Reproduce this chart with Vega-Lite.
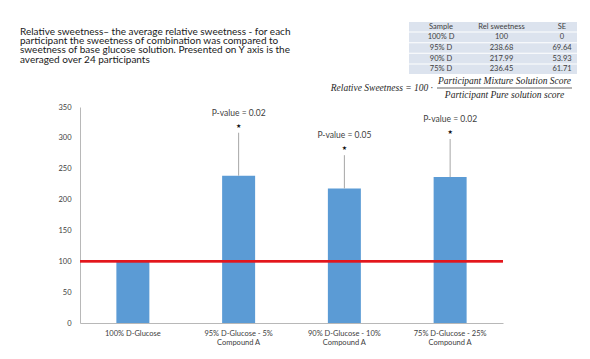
{
  "$schema": "https://vega.github.io/schema/vega-lite/v6.json",
  "autosize": "none",
  "width": 423,
  "height": 216,
  "padding": {"left": 80, "top": 107, "right": 87, "bottom": 36},
  "background": "white",
  "config": {
    "font": "Lato",
    "view": {"stroke": null},
    "axisY": {"labelOverlap": false, "grid": true, "gridColor": "#e6e6e6", "domain": true, "domainColor": "#b8b8b8", "ticks": false, "labelPadding": 9, "labelFontSize": 7.5, "labelColor": "#404040", "tickCount": 8},
    "axisX": {"labelAngle": 0, "ticks": false, "domainColor": "#b8b8b8", "labelFontSize": 7.5, "labelLineHeight": 9, "labelPadding": 6, "labelColor": "#404040"}
  },
  "datasets": {
    "desc": [
      {"line": 1, "text": "Relative sweetness– the average relative sweetness - for each"},
      {"line": 2, "text": "participant the sweetness of combination was compared to"},
      {"line": 3, "text": "sweetness of base glucose solution. Presented on Y axis is the"},
      {"line": 4, "text": "averaged over 24 participants"}
    ],
    "table": [
      {"r": "header", "c": "Sample", "v": "Sample"},
      {"r": "header", "c": "Rel sweetness", "v": "Rel sweetness"},
      {"r": "header", "c": "SE", "v": "SE"},
      {"r": "100% D", "c": "Sample", "v": "100% D"},
      {"r": "100% D", "c": "Rel sweetness", "v": "100"},
      {"r": "100% D", "c": "SE", "v": "0"},
      {"r": "95% D", "c": "Sample", "v": "95% D"},
      {"r": "95% D", "c": "Rel sweetness", "v": "238.68"},
      {"r": "95% D", "c": "SE", "v": "69.64"},
      {"r": "90% D", "c": "Sample", "v": "90% D"},
      {"r": "90% D", "c": "Rel sweetness", "v": "217.99"},
      {"r": "90% D", "c": "SE", "v": "53.93"},
      {"r": "75% D", "c": "Sample", "v": "75% D"},
      {"r": "75% D", "c": "Rel sweetness", "v": "236.45"},
      {"r": "75% D", "c": "SE", "v": "61.71"}
    ],
    "formula": [
      {"col": "lhs", "row": "mid", "text": "Relative Sweetness = 100 ·"},
      {"col": "frac", "row": "num", "text": "Participant Mixture Solution Score"},
      {"col": "frac", "row": "den", "text": "Participant Pure solution score"},
      {"col": "frac", "row": "mid", "text": ""}
    ],
    "bars": [
      {"sample": "100% D-Glucose", "value": 100, "se": 0, "upper": 100, "p": null},
      {"sample": "95% D-Glucose - 5%\nCompound A", "value": 238.68, "se": 69.64, "upper": 308.32, "p": "P-value = 0.02"},
      {"sample": "90% D-Glucose - 10%\nCompound A", "value": 217.99, "se": 53.93, "upper": 271.92, "p": "P-value = 0.05"},
      {"sample": "75%  D-Glucose - 25%\nCompound A", "value": 236.45, "se": 61.71, "upper": 298.16, "p": "P-value = 0.02"}
    ]
  },
  "layer": [
    {
      "data": {"name": "desc"},
      "mark": {"type": "text", "align": "left", "baseline": "middle", "fontSize": 10, "color": "#1a1a1a"},
      "encoding": {
        "x": {"field": "line", "type": "ordinal", "scale": {"type": "point", "range": [-60, -60], "padding": 0}, "axis": null},
        "y": {"field": "line", "type": "ordinal", "scale": {"type": "point", "range": [-75.5, -47.5], "padding": 0}, "axis": null},
        "text": {"field": "text"}
      }
    },
    {
      "data": {"name": "table"},
      "mark": {"type": "rect", "color": "#dce3ee"},
      "encoding": {
        "x": {"field": "c", "type": "nominal", "scale": {"type": "band", "domain": ["Sample", "Rel sweetness", "SE"], "range": [329, 497], "paddingInner": 0, "paddingOuter": 0}, "axis": null},
        "y": {"field": "r", "type": "nominal", "scale": {"type": "band", "domain": ["header", "100% D", "95% D", "90% D", "75% D"], "range": [-85, -33], "paddingInner": 0.1, "paddingOuter": 0}, "axis": null}
      }
    },
    {
      "data": {"name": "table"},
      "mark": {"type": "text", "baseline": "middle", "fontSize": 7.5, "color": "#404040"},
      "encoding": {
        "x": {"field": "c", "type": "nominal", "scale": {"type": "point", "domain": ["Sample", "Rel sweetness", "SE"], "range": [361, 482], "padding": 0}, "axis": null},
        "y": {"field": "r", "type": "nominal", "scale": {"type": "band", "domain": ["header", "100% D", "95% D", "90% D", "75% D"], "range": [-85, -33], "paddingInner": 0.1, "paddingOuter": 0}, "axis": null},
        "text": {"field": "v"}
      }
    },
    {
      "data": {"name": "formula"},
      "encoding": {
        "x": {"field": "col", "type": "nominal", "scale": {"type": "band", "domain": ["lhs", "frac"], "range": [222, 492], "paddingInner": 0, "paddingOuter": 0}, "axis": null},
        "y": {"field": "row", "type": "nominal", "scale": {"type": "point", "domain": ["num", "mid", "den"], "range": [-26, -12], "padding": 0}, "axis": null}
      },
      "layer": [
        {
          "transform": [{"filter": "datum.col == 'lhs'"}],
          "mark": {"type": "text", "align": "right", "baseline": "middle", "font": "Liberation Serif", "fontStyle": "italic", "fontSize": 9.5, "dx": -4, "color": "#262626"},
          "encoding": {
            "x": {"field": "col", "type": "nominal", "bandPosition": 1, "axis": null},
            "text": {"field": "text"}
          }
        },
        {
          "transform": [{"filter": "datum.col == 'frac' && datum.row != 'mid'"}],
          "mark": {"type": "text", "align": "center", "baseline": "middle", "font": "Liberation Serif", "fontStyle": "italic", "fontSize": 9.5, "color": "#262626"},
          "encoding": {"text": {"field": "text"}}
        },
        {
          "transform": [{"filter": "datum.col == 'frac' && datum.row == 'mid'"}],
          "mark": {"type": "tick", "orient": "horizontal", "thickness": 0.8, "color": "#262626"},
          "encoding": {"size": {"value": 135}}
        }
      ]
    },
    {
      "data": {"name": "bars"},
      "layer": [
        {
          "mark": {"type": "bar", "color": "#5b9bd5"},
          "encoding": {
            "x": {
              "field": "sample", "type": "nominal", "sort": null, "title": null,
              "scale": {"paddingInner": 0.688, "paddingOuter": 0.344},
              "axis": {"labelExpr": "split(datum.label, '\\n')"}
            },
            "y": {
              "field": "value", "type": "quantitative", "title": null,
              "scale": {"domain": [0, 350], "nice": false},
              "axis": {"values": [0, 50, 100, 150, 200, 250, 300, 350]}
            }
          }
        },
        {
          "transform": [{"filter": "datum.upper > datum.value"}],
          "mark": {"type": "rule", "color": "#a6a6a6", "strokeWidth": 1},
          "encoding": {
            "x": {"field": "sample", "type": "nominal", "sort": null, "title": null},
            "y": {"field": "value", "type": "quantitative", "title": null},
            "y2": {"field": "upper"}
          }
        },
        {
          "transform": [{"filter": "datum.p != null"}],
          "mark": {"type": "text", "text": "★", "font": "DejaVu Sans", "fontSize": 6, "dy": -7, "baseline": "middle", "color": "#111111"},
          "encoding": {
            "x": {"field": "sample", "type": "nominal", "sort": null, "title": null},
            "y": {"field": "upper", "type": "quantitative", "title": null}
          }
        },
        {
          "transform": [{"filter": "datum.p != null"}],
          "mark": {"type": "text", "fontSize": 8.5, "dy": -20, "baseline": "middle", "color": "#404040"},
          "encoding": {
            "x": {"field": "sample", "type": "nominal", "sort": null, "title": null},
            "y": {"field": "upper", "type": "quantitative", "title": null},
            "text": {"field": "p"}
          }
        },
        {
          "mark": {"type": "rule", "color": "#e3161c", "strokeWidth": 2},
          "encoding": {"y": {"datum": 100, "type": "quantitative", "title": null}}
        }
      ]
    }
  ],
  "resolve": {"scale": {"x": "independent", "y": "independent"}}
}
